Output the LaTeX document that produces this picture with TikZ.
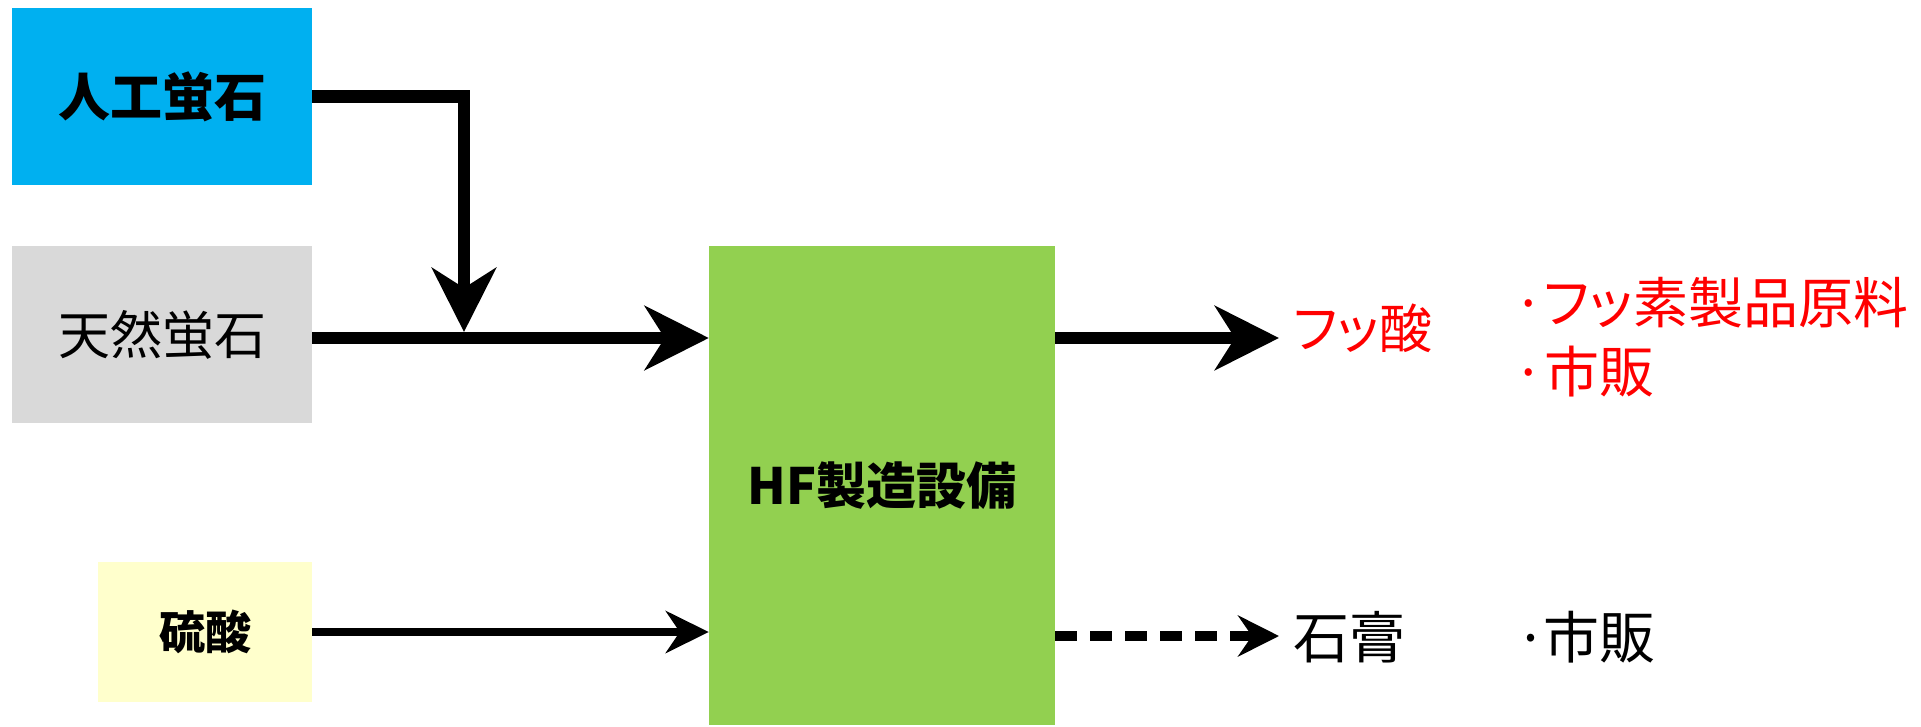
\documentclass[tikz,border=0pt]{standalone}
\usepackage{fontspec}
\usetikzlibrary{arrows.meta}
\newfontfamily\jp{Noto Sans CJK JP}[RawFeature=+palt]
\definecolor{cyanb}{HTML}{00B0F0}
\definecolor{grayb}{HTML}{D9D9D9}
\definecolor{yellowb}{HTML}{FFFFCC}
\definecolor{greenb}{HTML}{92D050}
\definecolor{redt}{HTML}{FF0000}
\begin{document}
\begin{tikzpicture}[x=1pt,y=-1pt,
  box/.style={inner sep=0pt, draw=none},
  thickline/.style={line width=12.5pt, -{Stealth[length=64pt,width=64pt,inset=20pt]}},
  thinline/.style={line width=8.5pt, -{Stealth[length=43pt,width=42pt,inset=14pt]}},
  dashline/.style={line width=9.5pt, dash pattern=on 22pt off 13pt, -{Stealth[length=41pt,width=41pt,inset=14pt]}},
  rlabel/.style={anchor=west, inner xsep=14pt, inner ysep=0pt, font=\jp\fontsize{56}{69}\selectfont}
]
\useasboundingbox (0,0) rectangle (1921,726);
\node[box, fill=cyanb, minimum width=300pt, minimum height=177pt, font=\jp\bfseries\fontsize{52}{60}\selectfont] (jk) at (162,96.5) {人工蛍石};
\node[box, fill=grayb, minimum width=300pt, minimum height=177pt, font=\jp\fontsize{52}{60}\selectfont] (tn) at (162,334.5) {天然蛍石};
\node[box, fill=yellowb, minimum width=214pt, minimum height=140pt, font=\jp\bfseries\fontsize{46}{52}\selectfont] (ry) at (205,632) {硫酸};
\node[box, fill=greenb, minimum width=346pt, minimum height=479pt, font=\jp\bfseries\fontsize{50}{58}\selectfont] (hf) at (882,485.5) {HF製造設備};

\coordinate (ya) at (0,338);
\coordinate (yb) at (0,636);
\coordinate (j) at (464,332);

\node[rlabel, text=redt, font=\jp\fontsize{53}{69}\selectfont] (fa) at (1279,328) {フッ酸};
\node[rlabel, text=black] (sk) at (1279,637) {石膏};
\node[rlabel, text=redt, align=left, inner xsep=0pt, font=\jp\fontsize{55}{69}\selectfont] (u1) at (1513,337) {·フッ素製品原料\\·市販};
\node[rlabel, text=black, inner xsep=0pt] (u2) at (1515,637) {·\hspace{-3pt}市販};

\draw[thickline] (jk.east) -| (j);
\draw[thickline] (tn.east |- ya) -- (hf.west |- ya);
\draw[thinline] (ry.east) -- (hf.west |- ry.east);
\draw[thickline] (hf.east |- ya) -- (fa.west |- ya);
\draw[dashline] (hf.east |- yb) -- (sk.west |- yb);
\end{tikzpicture}
\end{document}
